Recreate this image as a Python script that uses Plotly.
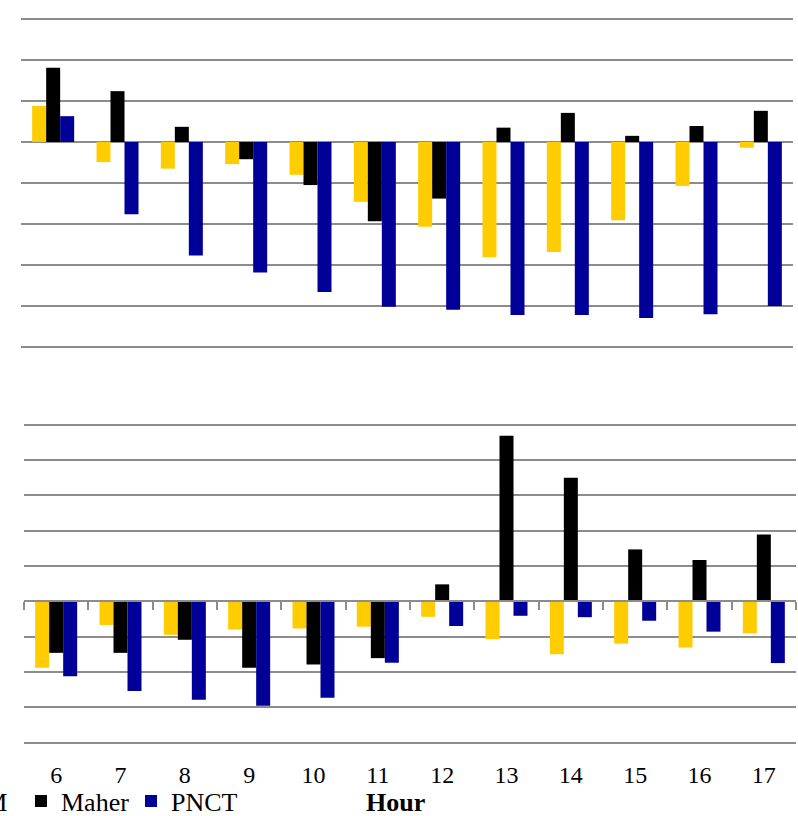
import plotly.graph_objects as go

# ---------------- data ----------------
hours = [6, 7, 8, 9, 10, 11, 12, 13, 14, 15, 16, 17]
series_names = ["APM", "Maher", "PNCT"]
series_colors = ["#FFCC00", "#000000", "#000099"]

# upper panel (values in gridline units)
apm_top = [0.88, -0.49, -0.65, -0.54, -0.80, -1.46, -2.07, -2.81, -2.68, -1.91, -1.07, -0.14]
maher_top = [1.81, 1.24, 0.37, -0.42, -1.05, -1.93, -1.38, 0.35, 0.71, 0.15, 0.39, 0.76]
pnct_top = [0.63, -1.76, -2.77, -3.18, -3.66, -4.02, -4.09, -4.22, -4.22, -4.29, -4.20, -4.00]

# lower panel
apm_bot = [-1.88, -0.67, -0.95, -0.80, -0.77, -0.72, -0.44, -1.07, -1.50, -1.20, -1.31, -0.91]
maher_bot = [-1.46, -1.46, -1.09, -1.88, -1.79, -1.61, 0.48, 4.69, 3.50, 1.47, 1.17, 1.89]
pnct_bot = [-2.12, -2.54, -2.79, -2.96, -2.73, -1.74, -0.70, -0.41, -0.45, -0.55, -0.86, -1.75]

boundaries = [h - 0.5 for h in hours] + [hours[-1] + 0.5]

SERIF = "Liberation Serif, Times New Roman, serif"
GRID = "#8C8C8C"

W, H = 798, 816


def fx(px):
    return px / W


def fy(py):
    return 1 - py / H


# pixel layout of the two panels
TOP_ZERO, TOP_UNIT, TOP_Y0, TOP_Y1 = 142.0, 41.0, 17.0, 349.0
BOT_ZERO, BOT_UNIT, BOT_Y0, BOT_Y1 = 601.3, 35.3, 423.0, 744.0

top_range = [-(TOP_Y1 - TOP_ZERO) / TOP_UNIT, (TOP_ZERO - TOP_Y0) / TOP_UNIT]
bot_range = [-(BOT_Y1 - BOT_ZERO) / BOT_UNIT, (BOT_ZERO - BOT_Y0) / BOT_UNIT]

fig = go.Figure()
for name, col, yt, yb in zip(series_names, series_colors,
                             [apm_top, maher_top, pnct_top],
                             [apm_bot, maher_bot, pnct_bot]):
    fig.add_trace(go.Bar(x=hours, y=yt, name=name, marker=dict(color=col, line=dict(width=0)),
                         xaxis="x", yaxis="y", legendgroup=name, showlegend=True))
    fig.add_trace(go.Bar(x=hours, y=yb, name=name, marker=dict(color=col, line=dict(width=0)),
                         xaxis="x2", yaxis="y2", legendgroup=name, showlegend=False))

# invisible trace so the zero-line tick axis is drawn
fig.add_trace(go.Scatter(x=[hours[0]], y=[0], xaxis="x3", yaxis="y2", mode="markers",
                         marker=dict(opacity=0), showlegend=False, hoverinfo="skip"))

xr = [hours[0] - 0.5, hours[-1] + 0.5]

fig.update_layout(
    width=W, height=H,
    margin=dict(l=0, r=0, t=0, b=0, autoexpand=False),
    paper_bgcolor="white", plot_bgcolor="white",
    barmode="group", bargap=0.347, bargroupgap=0,
    font=dict(family=SERIF, color="black", size=24),
    xaxis=dict(domain=[fx(21), fx(793)], range=xr, anchor="y", showticklabels=False,
               showgrid=False, zeroline=False, showline=False, ticks=""),
    yaxis=dict(domain=[fy(TOP_Y1), fy(TOP_Y0)], range=top_range, dtick=1, tick0=0, anchor="x",
               showticklabels=False, showgrid=True, gridcolor=GRID, gridwidth=2,
               zeroline=False, showline=False, ticks=""),
    xaxis2=dict(domain=[fx(24), fx(796)], range=xr, anchor="y2", tickmode="array",
                tickvals=hours, ticktext=[str(h) for h in hours],
                tickfont=dict(family=SERIF, size=24, color="black"),
                showgrid=False, zeroline=False, showline=False, ticks="",
                ticklabelstandoff=14),
    yaxis2=dict(domain=[fy(BOT_Y1), fy(BOT_Y0)], range=bot_range, dtick=1, tick0=0, anchor="x2",
                showticklabels=False, showgrid=True, gridcolor=GRID, gridwidth=2,
                zeroline=False, showline=False, ticks=""),
    xaxis3=dict(domain=[fx(24), fx(796)], range=xr, overlaying="x2", anchor="free",
                position=fy(BOT_ZERO), side="bottom", showline=True, linecolor=GRID,
                linewidth=2, ticks="outside", ticklen=8, tickwidth=2, tickcolor=GRID,
                tickmode="array", tickvals=boundaries, showticklabels=False,
                showgrid=False, zeroline=False),
    legend=dict(orientation="h", x=fx(-89), xanchor="left", y=fy(801), yanchor="middle",
                font=dict(family=SERIF, size=26, color="black"),
                entrywidth=65, entrywidthmode="pixels",
                bgcolor="rgba(0,0,0,0)", traceorder="normal"),
    annotations=[dict(text="<b>Hour</b>", x=fx(395), y=0, yshift=-3,
                      xref="paper", yref="paper", xanchor="center", yanchor="bottom",
                      showarrow=False, font=dict(family=SERIF, size=26, color="black"))],
)

fig.write_html("out.html", config={"displayModeBar": False, "staticPlot": True},
               post_script="document.body.style.margin='0';")
